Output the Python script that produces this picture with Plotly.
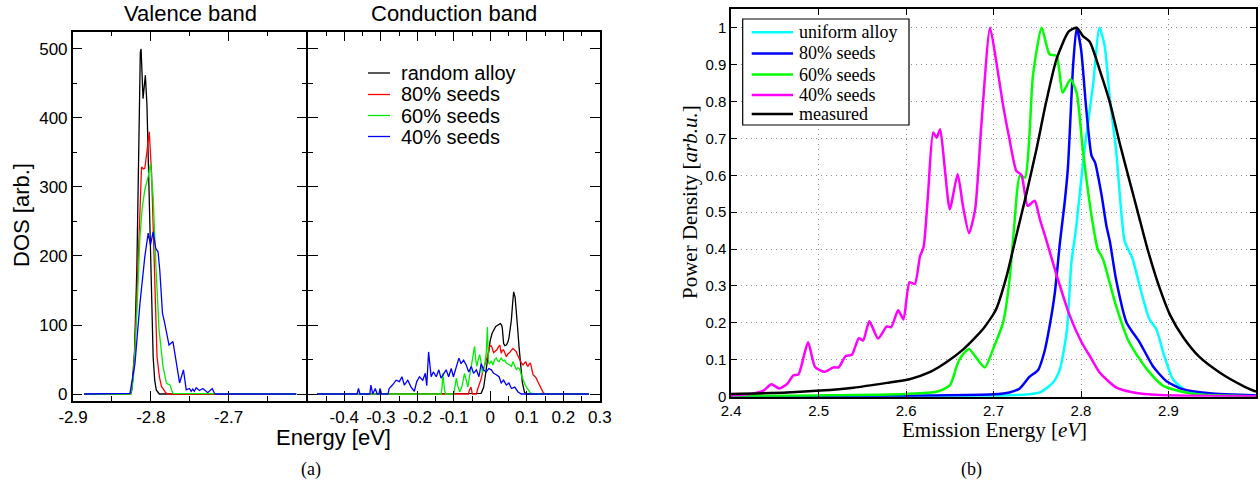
import plotly.graph_objects as go

W, H = 1260, 487


def px(x):
    return x / W


def py(y):
    return 1 - y / H


# ---------------- (a) Valence band DOS ----------------
val_black_E = [-2.886, -2.826, -2.8245, -2.821, -2.818, -2.816, -2.8135, -2.8125, -2.810, -2.8085,
               -2.807, -2.805, -2.803, -2.8004, -2.797, -2.795, -2.793, -2.789, -2.613]
val_black = [0, 0, 5, 60, 180, 330, 495, 500, 428, 445, 462, 420, 334, 189, 54, 20, 6, 0, 0]

val_red_E = [-2.886, -2.826, -2.8225, -2.8204, -2.817, -2.814, -2.8119, -2.8095, -2.8077, -2.8047,
             -2.802, -2.799, -2.797, -2.795, -2.792, -2.789, -2.7863, -2.781, -2.778, -2.613]
val_red = [0, 0, 25, 69, 170, 276, 329, 326, 327, 354, 380, 320, 238, 141, 54, 25, 11, 2, 0, 0]

val_green_E = [-2.886, -2.826, -2.8226, -2.818, -2.814, -2.811, -2.8077, -2.8034, -2.8004, -2.797,
               -2.7936, -2.7894, -2.7843, -2.780, -2.7775, -2.7757, -2.773, -2.7715, -2.613]
val_green = [0, 0, 20, 117, 228, 270, 296, 315, 334, 286, 189, 93, 40, 16, 14, 14, 5, 1, 0]

val_blue_E = [-2.886, -2.8268, -2.8204, -2.814, -2.8077, -2.8034, -2.8004, -2.797, -2.7936, -2.7907,
              -2.7885, -2.785, -2.782, -2.7766, -2.7715, -2.767, -2.763, -2.758, -2.7544, -2.7502,
              -2.748, -2.746, -2.744, -2.7416, -2.7374, -2.733, -2.7268, -2.721, -2.718, -2.716, -2.613]
val_blue = [0, 1, 44, 131, 199, 233, 216, 235, 211, 206, 180, 117, 102, 71, 76, 44, 16, 35, 6, 8,
            4, 7, 4, 9, 5, 8, 2, 8, 1, 0, 0]

# ---------------- (a) Conduction band DOS ----------------
con_black_E = [-0.474, -0.03, -0.025, -0.018, -0.011, -0.005, 0.0, 0.005, 0.009, 0.015, 0.021, 0.0275,
               0.031, 0.033, 0.0365, 0.04, 0.044, 0.048, 0.051, 0.055, 0.0577, 0.061, 0.064, 0.068,
               0.0714, 0.075, 0.0786, 0.083, 0.088, 0.094, 0.1, 0.27]
con_black = [0, 0, 1, 10, 35, 60, 78, 88, 93, 98, 100, 102, 100, 95, 73, 70, 71, 75, 81, 95, 107,
             130, 148, 140, 122, 95, 69, 40, 16, 2, 0, 0]

con_red_E = [-0.474, -0.135, -0.06, -0.057, -0.053, -0.049, -0.038, -0.034, -0.029, -0.025, -0.020,
             -0.015, -0.011, -0.006, -0.002, 0.002, 0.005, 0.009, 0.012, 0.018, 0.022, 0.026, 0.030,
             0.033, 0.0365, 0.040, 0.044, 0.048, 0.053, 0.057, 0.062, 0.066, 0.0714, 0.075, 0.080,
             0.085, 0.0896, 0.093, 0.097, 0.100, 0.103, 0.106, 0.11, 0.113, 0.117, 0.121, 0.126,
             0.130, 0.135, 0.140, 0.145, 0.15, 0.27]
con_red = [0, 0, 0, 6, 10, 0, 0, 8, 16, 22, 35, 42, 49, 58, 69, 70, 67, 60, 61, 64, 68, 71, 59, 63,
           64, 58, 54, 58, 60, 63, 66, 64, 61, 56, 49, 45, 42, 45, 47, 42, 40, 43, 45, 38, 28, 26,
           23, 18, 13, 6, 2, 0, 0]

con_green_E = [-0.474, -0.135, -0.132, -0.130, -0.1255, -0.122, -0.100, -0.097, -0.093, -0.089,
               -0.084, -0.078, -0.0706, -0.066, -0.0615, -0.057, -0.052, -0.047, -0.043, -0.040,
               -0.037, -0.033, -0.029, -0.025, -0.022, -0.019, -0.0157, -0.011, -0.008, -0.005,
               -0.002, 0.003, 0.007, 0.012, 0.0165, 0.02, 0.024, 0.027, 0.030, 0.035, 0.039, 0.044,
               0.048, 0.053, 0.058, 0.062, 0.066, 0.0714, 0.075, 0.080, 0.085, 0.0896, 0.094, 0.099,
               0.104, 0.108, 0.112, 0.116, 0.27]
con_green = [0, 0, 10, 30, 6, 0, 0, 10, 23, 12, 3, 10, 30, 20, 10, 25, 42, 60, 69, 50, 40, 50, 57,
             45, 30, 35, 40, 60, 97, 45, 44, 48, 42, 50, 52, 48, 47, 50, 52, 48, 49, 45, 44, 42, 40,
             47, 42, 35, 38, 37, 28, 20, 15, 10, 5, 3, 1, 0, 0]

con_blue_E = [-0.474, -0.365, -0.361, -0.357, -0.330, -0.327, -0.322, -0.315, -0.310, -0.305, -0.302,
              -0.298, -0.280, -0.277, -0.268, -0.258, -0.249, -0.242, -0.2355, -0.226, -0.217,
              -0.208, -0.2015, -0.194, -0.185, -0.178, -0.174, -0.169, -0.162, -0.156, -0.148,
              -0.141, -0.135, -0.128, -0.121, -0.114, -0.107, -0.101, -0.093, -0.086, -0.080,
              -0.073, -0.066, -0.059, -0.052, -0.046, -0.038, -0.031, -0.025, -0.0184, -0.011,
              -0.004, 0.003, 0.009, 0.0165, 0.024, 0.030, 0.0365, 0.044, 0.051, 0.058, 0.067, 0.076,
              0.085, 0.27]
con_blue = [0, 0, 8, 0, 0, 13, 0, 8, 0, 0, 8, 0, 0, 8, 13, 20, 18, 25, 13, 20, 10, 4, 18, 25, 20,
            30, 12, 61, 25, 32, 25, 35, 23, 30, 35, 25, 37, 25, 40, 52, 44, 49, 42, 32, 40, 30, 35,
            25, 44, 35, 32, 37, 35, 30, 28, 25, 16, 20, 13, 16, 8, 10, 3, 0, 0]

dos_names = ["random alloy", "80% seeds", "60% seeds", "40% seeds"]
dos_colors = ["#000000", "#ff0000", "#00ee00", "#0000ff"]
dos_yticks = [0, 100, 200, 300, 400, 500]
val_xticks = [-2.9, -2.8, -2.7, -2.6]
val_xlabels = ["-2.9", "-2.8", "-2.7", ""]
con_xticks = [-0.5, -0.4, -0.3, -0.2, -0.1, 0.0, 0.1, 0.2, 0.3]
con_xlabels = ["", "-0.4", "-0.3", "-0.2", "-0.1", "0", "0.1", "0.2", "0.3"]

# ---------------- (b) Emission spectra ----------------
pl_uniform_E = [2.40, 2.70, 2.74, 2.753, 2.768, 2.776, 2.784, 2.789, 2.794, 2.799, 2.804, 2.809,
                2.814, 2.821, 2.827, 2.833, 2.84, 2.846, 2.85, 2.859, 2.867, 2.878, 2.886, 2.895,
                2.905, 2.92, 2.947, 3.0]
pl_uniform = [0.0, 0.002, 0.006, 0.011, 0.038, 0.075, 0.183, 0.364, 0.45, 0.56, 0.67, 0.76, 0.85,
              1.0, 0.951, 0.806, 0.67, 0.50, 0.42, 0.373, 0.30, 0.21, 0.183, 0.111, 0.047, 0.016,
              0.004, 0.001]

pl_80_E = [2.40, 2.60, 2.70, 2.718, 2.73, 2.741, 2.751, 2.758, 2.764, 2.77, 2.776, 2.781, 2.785,
           2.791, 2.795, 2.80, 2.806, 2.812, 2.816, 2.823, 2.829, 2.833, 2.84, 2.852, 2.867, 2.882,
           2.897, 2.916, 2.947, 3.0]
pl_80 = [0.0, 0.002, 0.006, 0.011, 0.022, 0.053, 0.072, 0.12, 0.19, 0.28, 0.42, 0.52, 0.62, 0.9,
         1.0, 0.942, 0.779, 0.653, 0.635, 0.553, 0.463, 0.42, 0.318, 0.201, 0.147, 0.083, 0.043,
         0.02, 0.009, 0.003]

pl_60_E = [2.40, 2.50, 2.60, 2.635, 2.65, 2.658, 2.661, 2.667, 2.672, 2.68, 2.69, 2.701, 2.711,
           2.718, 2.724, 2.73, 2.736, 2.741, 2.745, 2.755, 2.764, 2.772, 2.779, 2.788, 2.795,
           2.802, 2.812, 2.819, 2.825, 2.84, 2.855, 2.875, 2.894, 2.928, 3.0]
pl_60 = [0.001, 0.003, 0.007, 0.013, 0.03, 0.083, 0.1, 0.12, 0.129, 0.106, 0.079, 0.138, 0.201,
         0.31, 0.472, 0.598, 0.594, 0.707, 0.869, 1.0, 0.928, 0.924, 0.824, 0.86, 0.824, 0.67,
         0.49, 0.40, 0.373, 0.246, 0.147, 0.075, 0.029, 0.007, 0.001]

pl_40_E = [2.40, 2.42, 2.437, 2.446, 2.455, 2.464, 2.471, 2.477, 2.488, 2.496, 2.507, 2.517, 2.523,
           2.531, 2.538, 2.546, 2.551, 2.558, 2.568, 2.578, 2.583, 2.591, 2.597, 2.604, 2.610,
           2.616, 2.620, 2.625, 2.631, 2.635, 2.639, 2.644, 2.650, 2.659, 2.665, 2.672, 2.679,
           2.686, 2.696, 2.703, 2.711, 2.718, 2.726, 2.732, 2.739, 2.747, 2.753, 2.760, 2.772,
           2.787, 2.80, 2.81, 2.821, 2.84, 2.86, 2.89, 3.0]
pl_40 = [0.003, 0.006, 0.016, 0.033, 0.022, 0.034, 0.057, 0.06, 0.147, 0.08, 0.067, 0.079, 0.079,
         0.11, 0.113, 0.158, 0.152, 0.204, 0.157, 0.19, 0.188, 0.234, 0.209, 0.31, 0.305, 0.381,
         0.405, 0.544, 0.716, 0.702, 0.725, 0.625, 0.508, 0.603, 0.517, 0.443, 0.508, 0.734, 1.0,
         0.91, 0.788, 0.70, 0.612, 0.60, 0.517, 0.531, 0.48, 0.427, 0.33, 0.22, 0.15, 0.11, 0.066,
         0.025, 0.011, 0.004, 0.001]

pl_meas_E = [2.40, 2.464, 2.502, 2.54, 2.578, 2.604, 2.627, 2.646, 2.665, 2.688, 2.703, 2.715,
             2.726, 2.737, 2.749, 2.76, 2.772, 2.786, 2.795, 2.802, 2.81, 2.821, 2.833, 2.844,
             2.855, 2.866, 2.876, 2.889, 2.902, 2.917, 2.935, 2.958, 2.985, 3.0]
pl_meas = [0.007, 0.011, 0.016, 0.024, 0.037, 0.047, 0.066, 0.093, 0.127, 0.183, 0.237, 0.327,
           0.436, 0.544, 0.67, 0.797, 0.915, 0.99, 1.0, 0.978, 0.962, 0.888, 0.797, 0.689, 0.589,
           0.49, 0.40, 0.30, 0.22, 0.16, 0.108, 0.066, 0.029, 0.013]

pl_names = ["uniform alloy", "80% seeds", "60% seeds", "40% seeds", "measured"]
pl_colors = ["#00ffff", "#0000ff", "#00ff00", "#ff00ff", "#000000"]
pl_xticks = [2.4, 2.5, 2.6, 2.7, 2.8, 2.9]
pl_xlabels = ["2.4", "2.5", "2.6", "2.7", "2.8", "2.9"]
pl_yticks = [0, 0.1, 0.2, 0.3, 0.4, 0.5, 0.6, 0.7, 0.8, 0.9, 1.0]
pl_ylabels = ["0", "0.1", "0.2", "0.3", "0.4", "0.5", "0.6", "0.7", "0.8", "0.9", "1"]

SANS = "Liberation Sans, Arial, sans-serif"
SERIF = "Liberation Serif, Times New Roman, serif"

fig = go.Figure()

val_sets = [(val_black_E, val_black), (val_red_E, val_red), (val_green_E, val_green), (val_blue_E, val_blue)]
con_sets = [(con_black_E, con_black), (con_red_E, con_red), (con_green_E, con_green), (con_blue_E, con_blue)]
for (xe, yv), name, col in zip(val_sets, dos_names, dos_colors):
    fig.add_trace(go.Scatter(x=xe, y=yv, mode="lines", name=name, line=dict(color=col, width=1.3),
                             xaxis="x", yaxis="y", showlegend=False))
for (xe, yv), name, col in zip(con_sets, dos_names, dos_colors):
    fig.add_trace(go.Scatter(x=xe, y=yv, mode="lines", name=name, line=dict(color=col, width=1.3),
                             xaxis="x2", yaxis="y2", showlegend=False))

pl_sets = [(pl_uniform_E, pl_uniform), (pl_80_E, pl_80), (pl_60_E, pl_60), (pl_40_E, pl_40), (pl_meas_E, pl_meas)]
for (xe, yv), name, col in zip(pl_sets, pl_names, pl_colors):
    fig.add_trace(go.Scatter(x=xe, y=yv, mode="lines", name=name,
                             line=dict(color=col, width=2.5, shape="spline", smoothing=0.6),
                             xaxis="x3", yaxis="y3", showlegend=False))

LW = 1.5
ax_common = dict(showline=True, linecolor="black", linewidth=LW, mirror="allticks", ticks="inside",
                 tickcolor="black", tickwidth=1.2, showgrid=False, zeroline=False, automargin=False)
a_ydom = [py(400.7), py(31.7)]
# the shared divider: shift both domains by half a line width so the two frame lines coincide
val_xdom = [px(72.7), px(307 - LW / 2)]
con_xdom = [px(307 + LW / 2), px(600)]

fig.update_layout(
    width=W, height=H, autosize=False,
    margin=dict(l=0, r=0, t=0, b=0, pad=0),
    paper_bgcolor="white", plot_bgcolor="white",
    xaxis=dict(domain=val_xdom, range=[-2.9005, -2.6], anchor="y",
               tickmode="array", tickvals=val_xticks, ticktext=val_xlabels, ticklen=10,
               tickfont=dict(family=SANS, size=17, color="black"),
               minor=dict(ticks="inside", ticklen=5, tickmode="linear", tick0=-2.9, dtick=0.05,
                          tickcolor="black", tickwidth=1.2),
               **ax_common),
    yaxis=dict(domain=a_ydom, range=[-9.7, 525], anchor="x",
               tickmode="array", tickvals=dos_yticks, ticktext=[str(v) for v in dos_yticks], ticklen=10,
               tickfont=dict(family=SANS, size=17, color="black"),
               minor=dict(ticks="inside", ticklen=5, tickmode="linear", tick0=0, dtick=50,
                          tickcolor="black", tickwidth=1.2),
               **ax_common),
    xaxis2=dict(domain=con_xdom, range=[-0.5, 0.3005], anchor="y2",
                tickmode="array", tickvals=con_xticks, ticktext=con_xlabels, ticklen=10,
                tickfont=dict(family=SANS, size=17, color="black"),
                minor=dict(ticks="inside", ticklen=5, tickmode="linear", tick0=-0.5, dtick=0.05,
                           tickcolor="black", tickwidth=1.2),
                **ax_common),
    yaxis2=dict(domain=a_ydom, range=[-9.7, 525], anchor="x2", showticklabels=False,
                tickmode="array", tickvals=dos_yticks, ticklen=10,
                minor=dict(ticks="inside", ticklen=5, tickmode="linear", tick0=0, dtick=50,
                           tickcolor="black", tickwidth=1.2),
                **ax_common),
    xaxis3=dict(domain=[px(731), px(1256)], range=[2.3999, 3.0], anchor="y3",
                tickmode="array", tickvals=pl_xticks, ticktext=pl_xlabels, ticklen=6,
                tickfont=dict(family=SANS, size=15, color="black"),
                showline=True, linecolor="black", linewidth=1.5, mirror="ticks", ticks="inside",
                tickcolor="black", tickwidth=1, zeroline=False, automargin=False,
                showgrid=True, gridcolor="#8a8a8a", gridwidth=1, griddash="1px,4px"),
    yaxis3=dict(domain=[py(396.7), py(9.3)], range=[-0.0005, 1.05], anchor="x3",
                tickmode="array", tickvals=pl_yticks, ticktext=pl_ylabels, ticklen=6,
                tickfont=dict(family=SANS, size=15, color="black"),
                showline=True, linecolor="black", linewidth=1.5, mirror="ticks", ticks="inside",
                tickcolor="black", tickwidth=1, zeroline=False, automargin=False,
                showgrid=True, gridcolor="#8a8a8a", gridwidth=1, griddash="1px,4px"),
)

shapes = []
annotations = []

# Panel titles and axis titles for (a)
annotations += [
    dict(text="Valence band", x=px(190), y=py(14), xref="paper", yref="paper", showarrow=False,
         xanchor="center", yanchor="middle", font=dict(family=SANS, size=22, color="black")),
    dict(text="Conduction band", x=px(454), y=py(14), xref="paper", yref="paper", showarrow=False,
         xanchor="center", yanchor="middle", font=dict(family=SANS, size=22, color="black")),
    dict(text="DOS [arb.]", x=px(22), y=py(215), xref="paper", yref="paper", showarrow=False,
         textangle=-90, xanchor="center", yanchor="middle", font=dict(family=SANS, size=22, color="black")),
    dict(text="Energy [eV]", x=px(333), y=py(437), xref="paper", yref="paper", showarrow=False,
         xanchor="center", yanchor="middle", font=dict(family=SANS, size=22, color="black")),
    dict(text="(a)", x=px(311), y=py(469), xref="paper", yref="paper", showarrow=False,
         xanchor="center", yanchor="middle", font=dict(family=SERIF, size=18, color="black")),
]

# Legend for (a)
a_rows = [73, 94.5, 115.5, 136.5]
for name, col, r in zip(dos_names, dos_colors, a_rows):
    shapes.append(dict(type="line", xref="paper", yref="paper", x0=px(368), x1=px(390), y0=py(r), y1=py(r),
                       line=dict(color=col, width=1.3), layer="above"))
    annotations.append(dict(text=name, x=px(399), y=py(r), xref="paper", yref="paper", showarrow=False,
                            xanchor="left", yanchor="middle", font=dict(family=SANS, size=20, color="black")))

# Axis titles for (b)
annotations += [
    dict(text="Power Density [<i>arb.u.</i>]", x=px(690), y=py(202), xref="paper", yref="paper",
         showarrow=False, textangle=-90, xanchor="center", yanchor="middle",
         font=dict(family=SERIF, size=21, color="black")),
    dict(text="Emission Energy [<i>eV</i>]", x=px(994), y=py(430), xref="paper", yref="paper",
         showarrow=False, xanchor="center", yanchor="middle", font=dict(family=SERIF, size=21, color="black")),
    dict(text="(b)", x=px(971), y=py(469), xref="paper", yref="paper", showarrow=False,
         xanchor="center", yanchor="middle", font=dict(family=SERIF, size=18, color="black")),
]

# Legend for (b)
shapes.append(dict(type="rect", xref="paper", yref="paper", x0=px(742.7), x1=px(909), y0=py(125), y1=py(19),
                   line=dict(color="black", width=1.2), fillcolor="white", layer="above"))
b_rows = [32.3, 53.5, 74.5, 95, 114]
for name, col, r in zip(pl_names, pl_colors, b_rows):
    shapes.append(dict(type="line", xref="paper", yref="paper", x0=px(751.7), x1=px(793), y0=py(r), y1=py(r),
                       line=dict(color=col, width=2.5), layer="above"))
    annotations.append(dict(text=name, x=px(797), y=py(r), xref="paper", yref="paper", showarrow=False,
                            xanchor="left", yanchor="middle", font=dict(family=SERIF, size=18, color="black")))

fig.update_layout(shapes=shapes, annotations=annotations)

fig.write_html("out.html", config={"displayModeBar": False},
               post_script="document.body.style.margin='0';document.body.style.overflow='hidden';")
